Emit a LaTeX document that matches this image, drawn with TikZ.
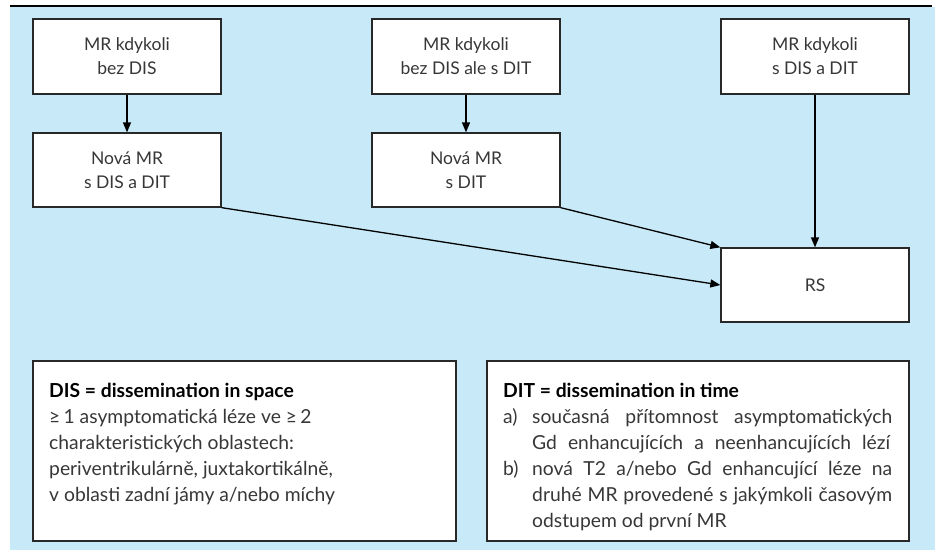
\documentclass[tikz,border=0pt]{standalone}
\usepackage{fontspec}
\setmainfont{Lato}
\usetikzlibrary{arrows.meta}
\definecolor{bgblue}{RGB}{200,234,248}
\definecolor{txt}{RGB}{55,55,55}
\definecolor{edge}{RGB}{40,40,40}
\begin{document}
\begin{tikzpicture}[x=1pt,y=-1pt,
  box/.style={draw=edge, line width=1.3pt, fill=white, inner sep=0pt, text=txt,
    align=center, font=\fontsize{17.5}{24}\selectfont},
  bigbox/.style={draw=edge, line width=1.3pt, fill=white, inner sep=0pt},
  boxtext/.style={anchor=north west, inner sep=0pt, align=left, text=txt,
    font=\fontsize{19.3}{26}\selectfont},
  conn/.style={draw=black, line width=1.3pt, -{Triangle[length=10pt,width=8pt]}}]
\useasboundingbox (0,0) rectangle (935,550);
\fill[bgblue] (10,7) rectangle (935,550);
\draw[line width=2.5pt] (10,6) -- (932,6);

\node[box, minimum width=188pt, minimum height=75pt] (b1) at (127,56.5) {MR kdykoli\\bez DIS};
\node[box, minimum width=188pt, minimum height=74pt] (b2) at (127,170) {Nová MR\\s DIS a DIT};
\node[box, minimum width=188pt, minimum height=75pt] (b3) at (466,56.5) {MR kdykoli\\bez DIS ale s DIT};
\node[box, minimum width=188pt, minimum height=74pt] (b4) at (466,170) {Nová MR\\s DIT};
\node[box, minimum width=188pt, minimum height=75pt] (b5) at (815,56.5) {MR kdykoli\\s DIS a DIT};
\node[box, minimum width=188pt, minimum height=74pt] (rs) at (815,285) {RS};

\draw[conn] (b1) -- (b2);
\draw[conn] (b3) -- (b4);
\draw[conn] (b5) -- (rs);
\draw[conn] (b4.south east) -- (rs.north west);
\draw[conn] (b2.south east) -- (rs.west);

\node[bigbox, minimum width=423pt, minimum height=180pt] (dis) at (244.5,451) {};
\node[bigbox, minimum width=422pt, minimum height=180pt] (dit) at (698,451) {};

\node[boxtext] (distext) at (49,383) {%
  {\bfseries\color{black}DIS = dissemination in space}\\
  ≥\,1 asymptomatická léze ve ≥\,2\\
  charakteristických oblastech:\\
  periventrikulárně, juxtakortikálně,\\
  v oblasti zadní jámy a/nebo míchy};

\node[boxtext] (dittext) at (503,383) {%
  {\bfseries\color{black}DIT = dissemination in time}\\
  \makebox[29pt][l]{a)}\makebox[360pt][s]{současná přítomnost asymptomatických}\\
  \makebox[29pt][l]{}\makebox[358pt][s]{Gd enhancujících a neenhancujících lézí}\\
  \makebox[29pt][l]{b)}\makebox[360pt][s]{nová T2 a/nebo Gd enhancující léze na}\\
  \makebox[29pt][l]{}\makebox[360pt][s]{druhé MR provedené s jakýmkoli časovým}\\
  \makebox[29pt][l]{}odstupem od první MR};
\end{tikzpicture}
\end{document}
